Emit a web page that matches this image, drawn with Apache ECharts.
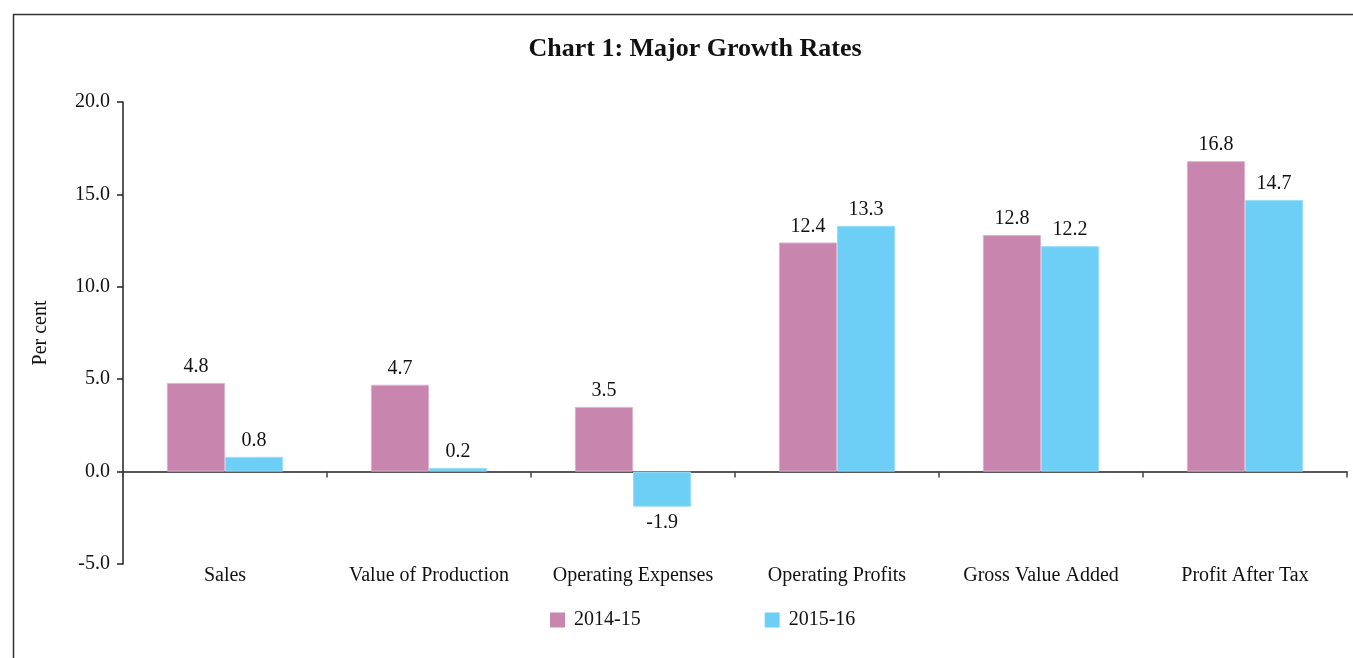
<!DOCTYPE html>
<html>
<head>
<meta charset="utf-8">
<script src="https://cdn.jsdelivr.net/npm/echarts@6/dist/echarts.min.js"></script>
<style>
html,body{margin:0;padding:0;background:#fff;}
#c{width:1353px;height:658px;}
</style>
</head>
<body>
<div id="c"></div>
<script>
const categories = ['Sales', 'Value of Production', 'Operating Expenses', 'Operating Profits', 'Gross Value Added', 'Profit After Tax'];
const series2014 = [4.8, 4.7, 3.5, 12.4, 12.8, 16.8];
const series2015 = [0.8, 0.2, -1.9, 13.3, 12.2, 14.7];
const seriesNames = ['2014-15', '2015-16'];

const FONT = '"Liberation Serif", "DejaVu Serif", serif';
const chart = echarts.init(document.getElementById('c'), null, {renderer: 'canvas'});

const labelStyle = {
  show: true,
  position: 'top',
  distance: 6,
  color: '#111',
  fontFamily: FONT,
  fontSize: 20,
  formatter: p => p.value.toFixed(1)
};

chart.setOption({
  backgroundColor: '#fff',
  animation: false,
  title: {
    text: 'Chart 1: Major Growth Rates',
    left: 690,
    textAlign: 'center',
    top: 31,
    textStyle: {fontFamily: FONT, fontWeight: 'bold', fontSize: 26, color: '#111'}
  },
  legend: {
    left: 545,
    top: 605,
    itemWidth: 15,
    itemHeight: 15,
    itemGap: 124,
    icon: 'rect',
    itemStyle: {borderWidth: 0},
    textStyle: {fontFamily: FONT, fontSize: 20, color: '#111', padding: [0, 0, 0, 4]},
    data: seriesNames
  },
  grid: {left: 123, right: 6, top: 102, bottom: 94, containLabel: false},
  xAxis: [
    {
      type: 'category',
      data: categories,
      axisLine: {onZero: true, lineStyle: {color: '#222', width: 1.5}},
      axisTick: {show: true, length: 6, lineStyle: {color: '#444', width: 1.5}},
      axisLabel: {show: false}
    },
    {
      type: 'category',
      data: categories,
      position: 'bottom',
      axisLine: {show: false, onZero: false},
      axisTick: {show: false},
      axisLabel: {show: true, interval: 0, margin: 2, color: '#111', fontFamily: FONT, fontSize: 20}
    }
  ],
  yAxis: {
    type: 'value',
    min: -5,
    max: 20,
    interval: 5,
    name: 'Per cent',
    nameLocation: 'middle',
    nameGap: 72,
    nameTextStyle: {fontFamily: FONT, fontSize: 20, color: '#111'},
    axisLine: {show: true, lineStyle: {color: '#222', width: 1.5}},
    axisTick: {show: true, length: 6, inside: false, lineStyle: {color: '#222', width: 1.5}},
    axisLabel: {margin: 13, color: '#111', fontFamily: FONT, fontSize: 20, formatter: v => v.toFixed(1)},
    splitLine: {show: false}
  },
  series: [
    {
      name: seriesNames[0],
      type: 'bar',
      xAxisIndex: 0,
      data: series2014,
      barGap: '0%',
      barCategoryGap: '43%',
      itemStyle: {color: '#C886AE', borderColor: '#DDB3CC', borderWidth: 1},
      label: labelStyle
    },
    {
      name: seriesNames[1],
      type: 'bar',
      xAxisIndex: 0,
      data: series2015.map(v => v < 0 ? {value: v, label: {position: 'bottom'}} : v),
      barGap: '0%',
      barCategoryGap: '43%',
      itemStyle: {color: '#6DCFF6', borderColor: '#9BDDF8', borderWidth: 1},
      label: labelStyle
    }
  ],
  graphic: [
    {type: 'line', shape: {x1: 13.5, y1: 14, x2: 13.5, y2: 658}, style: {stroke: '#333', lineWidth: 1.5}},
    {type: 'line', shape: {x1: 13, y1: 14.5, x2: 1353, y2: 14.5}, style: {stroke: '#333', lineWidth: 1.5}}
  ]
});
</script>
</body>
</html>
